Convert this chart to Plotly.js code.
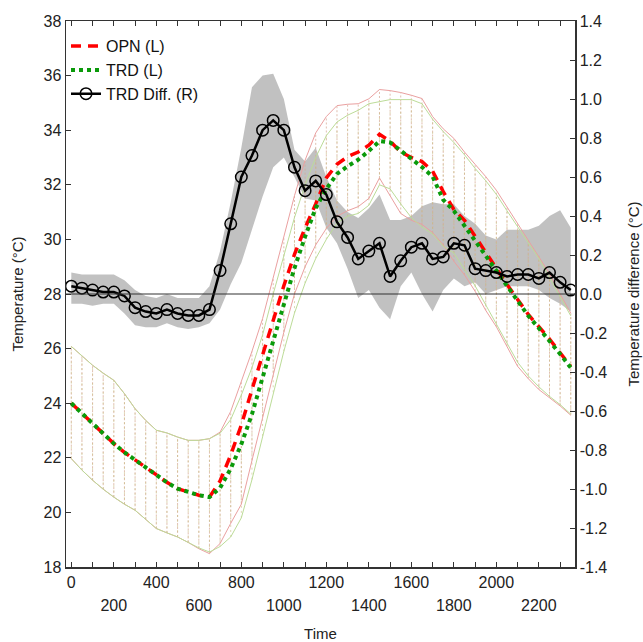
<!DOCTYPE html>
<html><head><meta charset="utf-8">
<script src="https://cdn.plot.ly/plotly-3.0.1.min.js"></script>
<style>html,body{margin:0;padding:0;background:#fff}#chart{width:643px;height:642px}</style>
</head><body><div id="chart"></div>
<script>
const time = [0,50,100,150,200,250,300,350,400,450,500,550,600,650,700,750,800,850,900,950,1000,1050,1100,1150,1200,1250,1300,1350,1400,1450,1500,1550,1600,1650,1700,1750,1800,1850,1900,1950,2000,2050,2100,2150,2200,2250,2300,2350];

const opnMean = [24.0,23.62,23.25,22.88,22.52,22.2,21.92,21.62,21.36,21.1,20.87,20.75,20.63,20.56,21.15,22.1,23.2,24.5,25.8,27.1,28.3,29.45,30.42,31.3,32.25,32.75,33.03,33.2,33.45,33.85,33.6,33.2,33.0,32.85,32.5,31.75,31.1,30.7,30.1,29.5,28.95,28.35,27.8,27.25,26.8,26.35,25.85,25.35];
const opnUpper = [26.08,25.72,25.39,25.1,24.84,24.35,23.8,23.37,23.01,22.91,22.76,22.64,22.64,22.7,22.94,23.7,24.8,25.9,27.1,28.6,30.1,31.6,32.9,33.9,34.5,34.9,34.95,34.97,35.15,35.49,35.45,35.38,35.28,35.16,34.5,34.05,33.7,33.2,32.75,32.3,31.8,31.2,30.6,30.0,29.4,28.75,28.0,27.3];
const opnLower = [21.97,21.55,21.18,20.85,20.56,20.3,20.08,19.75,19.41,19.25,19.1,18.9,18.67,18.49,18.86,19.6,20.3,21.9,23.5,25.1,26.6,28.0,29.0,29.8,30.4,30.85,31.05,31.2,31.5,32.25,31.6,30.95,30.7,30.55,30.25,29.8,29.2,28.7,28.1,27.4,26.8,26.1,25.35,24.9,24.5,24.2,23.9,23.56];

const trdMean = [24.0,23.62,23.25,22.88,22.52,22.2,21.92,21.62,21.36,21.1,20.87,20.75,20.63,20.56,20.9,21.6,22.5,23.6,24.95,26.35,27.7,28.95,30.1,31.15,31.85,32.4,32.68,32.92,33.24,33.6,33.55,33.25,32.95,32.65,32.3,31.45,31.05,30.5,30.0,29.45,28.9,28.3,27.75,27.2,26.75,26.3,25.8,25.3];
const trdUpper = [26.08,25.72,25.39,25.1,24.84,24.35,23.8,23.37,23.01,22.91,22.76,22.64,22.64,22.7,22.9,23.4,24.3,25.3,26.5,28.0,29.4,30.8,32.0,33.0,33.8,34.3,34.55,34.73,34.97,35.05,35.12,35.12,35.12,34.97,34.4,33.95,33.55,33.1,32.6,32.15,31.65,31.05,30.45,29.9,29.3,28.6,27.9,27.2];
const trdLower = [21.97,21.55,21.18,20.85,20.56,20.3,20.08,19.75,19.41,19.25,19.1,18.9,18.7,18.55,18.75,19.1,19.8,21.2,22.8,24.4,25.9,27.3,28.4,29.3,30.0,30.6,30.85,30.95,31.25,32.0,31.85,31.3,30.8,30.45,30.2,29.75,29.5,28.9,28.3,27.6,26.9,26.2,25.5,25.0,24.6,24.25,23.95,23.6];

const diffMean = [0.04,0.03,0.02,0.01,0.01,-0.01,-0.07,-0.09,-0.10,-0.08,-0.10,-0.11,-0.11,-0.08,0.12,0.36,0.60,0.71,0.84,0.89,0.84,0.65,0.53,0.58,0.51,0.37,0.29,0.18,0.22,0.26,0.09,0.17,0.24,0.26,0.18,0.19,0.26,0.25,0.13,0.12,0.11,0.09,0.10,0.10,0.08,0.11,0.06,0.02];
const diffUpper = [0.11,0.10,0.10,0.10,0.10,0.07,0.02,-0.01,-0.02,0.00,-0.02,-0.02,-0.02,0.04,0.22,0.47,0.75,1.06,1.12,1.13,1.0,0.74,0.68,0.75,0.60,0.48,0.42,0.39,0.44,0.51,0.38,0.38,0.40,0.45,0.47,0.46,0.46,0.40,0.36,0.30,0.28,0.33,0.33,0.33,0.35,0.40,0.43,0.34];
const diffLower = [-0.05,-0.05,-0.06,-0.05,-0.05,-0.10,-0.16,-0.17,-0.17,-0.15,-0.17,-0.18,-0.17,-0.15,-0.08,0.05,0.16,0.33,0.50,0.65,0.70,0.60,0.49,0.48,0.34,0.26,0.13,-0.02,0.02,-0.07,-0.13,0.04,0.11,0.00,-0.09,0.02,0.08,0.04,0.06,0.00,0.02,0.04,0.04,0.04,0.02,-0.02,-0.05,-0.09];

const xRow1Vals = [0,400,800,1200,1600,2000];
const xRow1Text = ["0","400","800","1200","1600","2000"];
const xRow2Vals = [200,600,1000,1400,1800,2200];
const xRow2Text = ["200","600","1000","1400","1800","2200"];
const xMinorVals = [0,100,200,300,400,500,600,700,800,900,1000,1100,1200,1300,1400,1500,1600,1700,1800,1900,2000,2100,2200,2300];
const leftTickVals = [18,20,22,24,26,28,30,32,34,36,38];
const leftTickText = ["18","20","22","24","26","28","30","32","34","36","38"];
const rightTickVals = [-1.4,-1.2,-1.0,-0.8,-0.6,-0.4,-0.2,0,0.2,0.4,0.6,0.8,1.0,1.2,1.4];
const rightTickText = ["-1.4","-1.2","-1.0","-0.8","-0.6","-0.4","-0.2","0.0","0.2","0.4","0.6","0.8","1.0","1.2","1.4"];
const diffReference = 0;

const FONT = "Liberation Sans, Arial, sans-serif";

function hatch(lo, up) {
  const xs = [], ys = [];
  time.forEach((t, i) => { xs.push(t, t, null); ys.push(lo[i], up[i], null); });
  return {xs, ys};
}
const hO = hatch(opnLower, opnUpper);
const hT = hatch(trdLower, trdUpper);

const GREY = 'rgba(140,140,140,0.54)';
const traces = [
  {x: time, y: diffLower, xaxis: 'x', yaxis: 'y', mode: 'lines', line: {width: 0, color: GREY}, showlegend: false, hoverinfo: 'skip'},
  {x: time, y: diffUpper, xaxis: 'x', yaxis: 'y', mode: 'lines', fill: 'tonexty', fillcolor: GREY, line: {width: 0, color: GREY}, showlegend: false, hoverinfo: 'skip'},
  {x: [null], y: [null], xaxis: 'x2', yaxis: 'y', mode: 'lines', showlegend: false, hoverinfo: 'skip'},
  {x: hO.xs, y: hO.ys, xaxis: 'x', yaxis: 'y2', mode: 'lines', line: {width: 1, color: 'rgba(215,170,150,0.75)', dash: '2px,2px'}, showlegend: false, hoverinfo: 'skip', connectgaps: false},
  {x: hT.xs, y: hT.ys, xaxis: 'x', yaxis: 'y2', mode: 'lines', line: {width: 1, color: 'rgba(200,190,130,0.6)', dash: '2px,3px'}, showlegend: false, hoverinfo: 'skip', connectgaps: false},
  {x: time, y: opnUpper, xaxis: 'x', yaxis: 'y2', mode: 'lines', line: {width: 1, color: '#eaa0a0'}, showlegend: false},
  {x: time, y: opnLower, xaxis: 'x', yaxis: 'y2', mode: 'lines', line: {width: 1, color: '#eaa0a0'}, showlegend: false},
  {x: time, y: trdUpper, xaxis: 'x', yaxis: 'y2', mode: 'lines', line: {width: 1, color: '#bcdc98'}, showlegend: false},
  {x: time, y: trdLower, xaxis: 'x', yaxis: 'y2', mode: 'lines', line: {width: 1, color: '#bcdc98'}, showlegend: false},
  {x: time, y: opnMean, xaxis: 'x', yaxis: 'y2', mode: 'lines', name: 'OPN (L)', line: {width: 3.5, color: '#ff0000', dash: '10px,7px'}},
  {x: time, y: trdMean, xaxis: 'x', yaxis: 'y2', mode: 'lines', name: 'TRD (L)', line: {width: 4, color: '#0a9a0a', dash: '4px,4px'}},
  {x: time, y: diffMean, xaxis: 'x', yaxis: 'y3', mode: 'lines+markers', name: 'TRD Diff. (R)', line: {width: 2.5, color: '#000'}, marker: {symbol: 'circle-open', size: 11.5, color: '#000', line: {width: 1.5, color: '#000'}}}
];

const axisCommon = {showgrid: false, zeroline: false, linecolor: '#333', linewidth: 1.5, tickcolor: '#333', ticks: 'inside', ticklen: 5, tickfont: {family: FONT, size: 16, color: '#222'}};
const XR = [-25, 2370];

const layout = {
  width: 643, height: 642,
  margin: {l: 66, r: 68, t: 21, b: 75},
  paper_bgcolor: '#fff', plot_bgcolor: '#fff',
  font: {family: FONT, color: '#222'},
  showlegend: true,
  legend: {x: 0.0, y: 0.985, xanchor: 'left', yanchor: 'top', traceorder: 'normal', bgcolor: 'rgba(0,0,0,0)', font: {family: FONT, size: 16, color: '#111'}, tracegroupgap: 0, itemwidth: 30},
  xaxis: Object.assign({}, axisCommon, {range: XR, tickvals: xMinorVals, ticktext: xMinorVals.map(v => { const k = xRow1Vals.indexOf(v); return k >= 0 ? xRow1Text[k] : ''; }), mirror: 'ticks', showline: true, title: {text: 'Time', font: {family: FONT, size: 15, color: '#222'}, standoff: 40}}),
  xaxis2: {overlaying: 'x', anchor: 'y', side: 'bottom', range: XR, showgrid: false, zeroline: false, showline: false, ticks: '', tickvals: xRow2Vals, ticktext: xRow2Text, tickfont: {family: FONT, size: 16, color: '#222'}, ticklabelstandoff: 27},
  yaxis: {visible: false, range: [-1.4, 1.4], showgrid: false, zeroline: false},
  yaxis2: Object.assign({}, axisCommon, {overlaying: 'y', side: 'left', anchor: 'x', range: [18, 38], tickvals: leftTickVals, ticktext: leftTickText, showline: true, title: {text: 'Temperature (°C)', font: {family: FONT, size: 15, color: '#222'}, standoff: 16}}),
  yaxis3: Object.assign({}, axisCommon, {overlaying: 'y', side: 'right', anchor: 'x', range: [-1.4, 1.4], tickvals: rightTickVals, ticktext: rightTickText, showline: true, title: {text: 'Temperature difference (°C)', font: {family: FONT, size: 15, color: '#222'}, standoff: 22}}),
  shapes: [
    {type: 'line', layer: 'above', xref: 'paper', yref: 'y3', x0: 0, x1: 1, y0: diffReference, y1: diffReference, line: {color: '#333', width: 1.2}}
  ]
};

Plotly.newPlot('chart', traces, layout, {displayModeBar: false, staticPlot: true});
</script>
</body></html>
